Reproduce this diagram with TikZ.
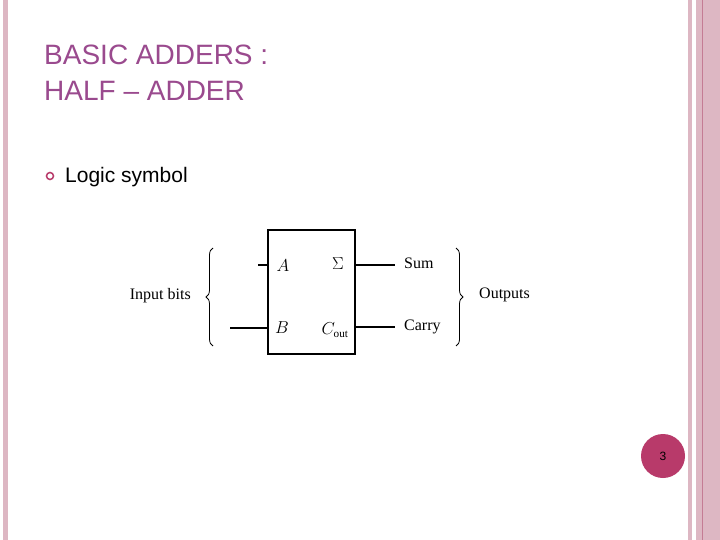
\documentclass[tikz,border=0pt]{standalone}
\usepackage{fontspec}
\setmainfont{Liberation Serif}
\newfontfamily\sans{Liberation Sans}
\usetikzlibrary{decorations.pathreplacing}
\definecolor{ttl}{HTML}{9A4A8E}
\definecolor{pk}{HTML}{DDB7C3}
\definecolor{pkd}{HTML}{C47C94}
\definecolor{dot}{HTML}{B83A6A}
\begin{document}
\begin{tikzpicture}[x=1pt,y=-1pt,
  lbl/.style={inner sep=0pt,font=\fontsize{16}{18}\selectfont},
  wire/.style={line width=1.2pt},
  brace/.style={decorate,decoration={brace,amplitude=7pt},line width=0.8pt}]
\useasboundingbox (0,0) rectangle (720,540);
\fill[white] (0,0) rectangle (720,540);
\fill[pk] (3,0) rectangle (8,540);
\fill[pk] (688,0) rectangle (692,540);
\fill[pk] (696,0) rectangle (720,540);
\draw[pkd,line width=0.8pt] (702,0) -- (702,540);
\node[anchor=base west,inner sep=0pt,text=ttl,font=\sans\fontsize{28}{32}\selectfont] (t1) at (44,65) {BASIC ADDERS :};
\node[anchor=base west,inner sep=0pt,text=ttl,font=\sans\fontsize{28}{32}\selectfont] (t2) at (44,101) {HALF – ADDER};
\node[draw=dot,line width=1.5pt,circle,minimum size=7pt,inner sep=0pt] (b) at (50,176) {};
\node[anchor=base west,inner sep=0pt,font=\sans\fontsize{21}{24}\selectfont] (ls) at (65,183) {Logic symbol};
\node[draw,line width=1.4pt,minimum width=87pt,minimum height=124pt,inner sep=0pt] (box) at (311.5,292) {};
\node[lbl,font=\fontsize{21}{22}\selectfont] (sg) at (310,242) {$\mathbf{\Sigma}$};
\node[lbl] (A) at (283,266) {$A$};
\node[lbl] (S) at (338,264) {$\Sigma$};
\node[lbl] (B) at (282,328) {$B$};
\node[lbl] (C) at (335,330) {$C_{\mathrm{out}}$};
\coordinate (a0) at (258,265);
\coordinate (b0) at (230,328);
\coordinate (s1) at (395,265);
\coordinate (c1) at (395,327);
\draw[wire] (a0) -- (box.west |- a0);
\draw[wire] (b0) -- (box.west |- b0);
\node[lbl,anchor=west] (sum) at (404,263) {Sum};
\node[lbl,anchor=west] (car) at (404,327) {Carry};
\draw[wire] (box.east |- s1) -- (s1);
\draw[wire] (box.east |- c1) -- (c1);
\coordinate (lb1) at (213,346);
\coordinate (lb2) at (213,248);
\draw[brace] (lb1) -- (lb2);
\node[lbl,anchor=east] (in) at (191,296) {Input bits};
\coordinate (rb1) at (456,248);
\coordinate (rb2) at (456,346);
\draw[brace] (rb1) -- (rb2);
\node[lbl,anchor=west] (out) at (479,295) {Outputs};
\node[circle,fill=dot,minimum size=44pt,inner sep=0pt,font=\sans\fontsize{12}{12}\selectfont] (pg) at (663,456) {3};
\end{tikzpicture}
\end{document}
